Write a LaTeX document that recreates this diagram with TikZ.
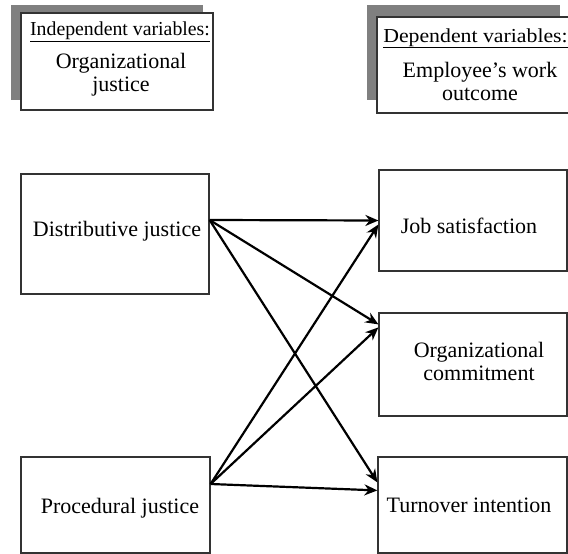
\documentclass[tikz,border=0pt]{standalone}
\usepackage{fontspec}
\setmainfont{Liberation Serif}
\usetikzlibrary{arrows.meta}
\tikzset{
  box/.style={draw=black!80, line width=1.2pt, fill=white, inner sep=0pt},
  shadowbox/.style={fill=black!50, draw=none, inner sep=0pt},
  txt/.style={font=\fontsize{22}{23}\selectfont, text=black, inner sep=0pt, align=center, anchor=base},
  hdr/.style={font=\fontsize{19.8}{23}\selectfont, text=black, inner sep=0pt, anchor=base},
  arr/.style={line width=2.2pt, -{Stealth[length=13pt,width=11pt]}, shorten <=0pt},
}
\begin{document}
\begin{tikzpicture}[x=1pt, y=-1pt]
\useasboundingbox (0,0) rectangle (568,554);
% top-left header box
\node[shadowbox, minimum width=192pt, minimum height=95pt] (SL) at (107,52.5) {};
\node[box, minimum width=192pt, minimum height=97pt] (HL) at (117,61.5) {};
\node[hdr] (HLa) at (120,35.5) {\underline{Independent variables:}};
\node[txt] (HLb) at (121,91) {Organizational\\justice};
% top-right header box
\node[shadowbox, minimum width=193pt, minimum height=95pt] (SR) at (463.5,52.5) {};
\node[box, minimum width=196pt, minimum height=96pt] (HR) at (475,65) {};
\node[hdr, xscale=1.1, transform shape] (HRa) at (475.5,42) {\underline{Dependent variables:}};
\node[txt] (HRb) at (480,100) {Employee’s work\\outcome};
% left boxes
\node[box, minimum width=188pt, minimum height=120pt] (D) at (115,234) {};
\node[txt] (Dt) at (117,236) {Distributive justice};
\node[box, minimum width=189pt, minimum height=96pt] (P) at (115.5,505) {};
\node[txt] (Pt) at (120,513) {Procedural justice};
% right boxes
\node[box, minimum width=188pt, minimum height=101pt] (J) at (473,220.5) {};
\node[txt] (Jt) at (469,233) {Job satisfaction};
\node[box, minimum width=188pt, minimum height=103pt] (O) at (473,364.5) {};
\node[txt] (Ot) at (479,380) {Organizational\\commitment};
\node[box, minimum width=189pt, minimum height=96pt] (T) at (472.5,505) {};
\node[txt] (Tt) at (469,512) {Turnover intention};
% arrows
\coordinate (Ds) at ([yshift=14pt]D.east);
\coordinate (Ps) at ([yshift=21pt]P.east);
\draw[arr] (Ds) -- (J.west);
\draw[arr] (Ds) -- ([yshift=-12pt]O.north west);
\draw[arr] (Ds) -- ([yshift=-26pt]T.north west);
\draw[arr] (Ps) -- ([yshift=-4pt]J.west);
\draw[arr] (Ps) -- ([yshift=-15pt]O.north west);
\draw[arr] (Ps) -- ([yshift=-34pt]T.north west);
\end{tikzpicture}
\end{document}
